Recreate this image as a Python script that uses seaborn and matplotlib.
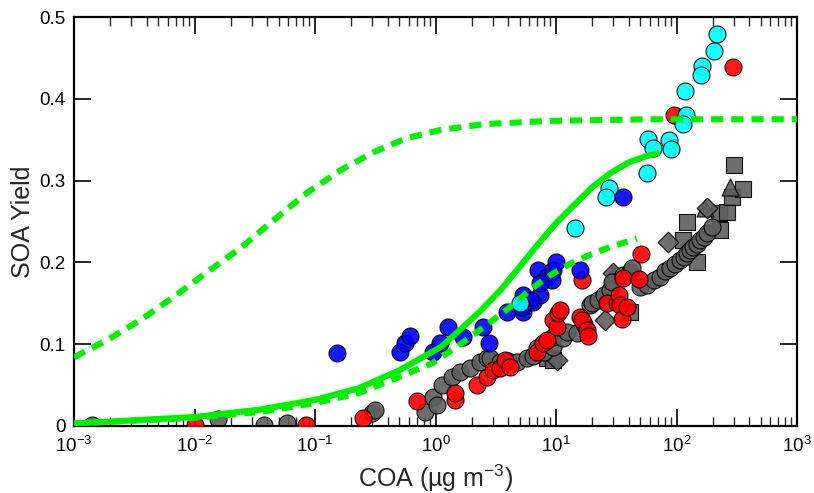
import numpy as np
import pandas as pd
import matplotlib
matplotlib.use("Agg")
import matplotlib.pyplot as plt
from matplotlib.ticker import FuncFormatter, LogLocator, NullFormatter, FixedLocator
import seaborn as sns

# ---------------- data ----------------
gray_circ_x = [0.0014, 0.0157, 0.0378, 0.0586, 0.30, 0.315, 0.82, 0.95, 1.03, 1.13, 1.37, 1.6, 1.93,
               2.34, 2.67, 2.83, 3.43, 4.0, 4.74, 5.74, 6.4, 6.95, 8.0, 9.4, 9.4, 11.4, 12.3, 14.9,
               17.0, 19.1, 19.9, 22.3, 25.0, 28.0, 29.0, 36.0, 41.0, 42.8, 50.0, 57.0, 65.0, 73.0,
               80.0, 88.0, 97.0, 107.0, 115.0, 122.0, 130.0, 137.0, 147.0, 157.0, 168.0, 179.0, 197.0]
gray_circ_y = [0.001, 0.009, 0.001, 0.004, 0.016, 0.020, 0.017, 0.035, 0.026, 0.050, 0.060, 0.066, 0.071,
               0.078, 0.083, 0.083, 0.078, 0.080, 0.078, 0.083, 0.086, 0.095, 0.090, 0.097, 0.109, 0.108,
               0.115, 0.114, 0.125, 0.148, 0.150, 0.154, 0.160, 0.166, 0.176, 0.185, 0.188, 0.193, 0.170,
               0.172, 0.178, 0.182, 0.190, 0.193, 0.198, 0.203, 0.207, 0.211, 0.215, 0.219, 0.223, 0.227,
               0.231, 0.236, 0.243]

gray_sq_x = [8.4, 9.5, 41.0, 113.0, 122.0, 148.0, 225.0, 230.0, 262.0, 289.0, 300.0, 357.0]
gray_sq_y = [0.083, 0.081, 0.139, 0.227, 0.249, 0.200, 0.260, 0.240, 0.262, 0.280, 0.319, 0.290]

gray_tri_x = [29.7, 173.0, 278.0]
gray_tri_y = [0.186, 0.266, 0.292]

gray_dia_x = [10.2, 25.5, 29.7, 85.0, 179.0]
gray_dia_y = [0.081, 0.130, 0.187, 0.225, 0.266]

red_x = [0.0101, 0.084, 0.25, 0.70, 1.45, 1.45, 2.2, 2.67, 3.0, 3.43, 3.78, 4.15, 6.95, 7.8, 8.4,
         9.44, 10.2, 10.4, 10.8, 15.8, 16.4, 16.4, 18.1, 18.4, 26.5, 32.0, 33.3, 34.0, 35.3, 36.0,
         38.8, 48.9, 51.0, 95.0, 294.0]
red_y = [0.001, 0.001, 0.010, 0.030, 0.032, 0.040, 0.050, 0.060, 0.068, 0.071, 0.081, 0.072, 0.090,
         0.101, 0.105, 0.130, 0.121, 0.138, 0.142, 0.133, 0.130, 0.178, 0.117, 0.110, 0.150, 0.150,
         0.160, 0.148, 0.131, 0.181, 0.145, 0.180, 0.210, 0.380, 0.439]

blue_x = [0.152, 0.51, 0.56, 0.61, 0.95, 1.09, 1.27, 1.69, 2.48, 2.78, 3.92, 5.32, 5.32, 6.44, 7.36,
          7.09, 8.42, 9.44, 10.0, 9.27, 15.8, 36.0, 6.08, 5.22, 7.36]
blue_y = [0.089, 0.090, 0.101, 0.110, 0.090, 0.101, 0.121, 0.109, 0.121, 0.101, 0.139, 0.139, 0.160,
          0.152, 0.160, 0.191, 0.182, 0.191, 0.200, 0.178, 0.191, 0.280, 0.154, 0.145, 0.175]

cyan_x = [217.0, 205.0, 163.0, 160.0, 118.0, 120.0, 113.0, 58.0, 64.0, 87.0, 90.0, 57.0, 27.5, 26.0,
          14.4, 5.0]
cyan_y = [0.479, 0.458, 0.440, 0.429, 0.410, 0.380, 0.369, 0.351, 0.340, 0.350, 0.339, 0.309, 0.291,
          0.280, 0.242, 0.150]

fit_upper_x = [0.001, 0.00188, 0.0036, 0.00676, 0.0127, 0.0243, 0.0457, 0.0859, 0.164, 0.309, 0.579,
               1.11, 2.52, 8.9, 60.0, 1000.0]
fit_upper_y = [0.084, 0.105, 0.130, 0.158, 0.188, 0.218, 0.252, 0.285, 0.313, 0.335, 0.352, 0.362,
               0.369, 0.373, 0.375, 0.375]

fit_solid_x = [0.001, 0.01, 0.0347, 0.1, 0.229, 0.50, 1.12, 1.58, 2.34, 3.55, 5.01, 7.08, 10.0,
               14.1, 20.0, 28.2, 39.8, 56.2, 72.4]
fit_solid_y = [0.003, 0.011, 0.020, 0.032, 0.046, 0.068, 0.097, 0.117, 0.140, 0.168, 0.195, 0.222,
               0.248, 0.270, 0.292, 0.309, 0.322, 0.330, 0.334]

fit_lower_x = [0.001, 0.01, 0.0347, 0.1, 0.229, 0.50, 0.95, 1.8, 3.9, 6.3, 8.9, 12.6, 18.2, 28.2,
               46.8]
fit_lower_y = [0.003, 0.010, 0.017, 0.028, 0.040, 0.060, 0.077, 0.105, 0.142, 0.168, 0.184, 0.197,
               0.208, 0.219, 0.229]

y_ticks = [0.0, 0.1, 0.2, 0.3, 0.4, 0.5]

# ---------------- style ----------------
sns.set_style("ticks")
plt.rcParams['font.family'] = ['Liberation Sans', 'DejaVu Sans']
plt.rcParams['mathtext.fontset'] = 'custom'
plt.rcParams['mathtext.rm'] = 'Liberation Sans'
plt.rcParams['mathtext.it'] = 'Liberation Sans:italic'
plt.rcParams['mathtext.default'] = 'regular'

GRAY = '#5e5e5e'
RED = '#ff0000'
BLUE = '#0000ff'
CYAN = '#00ffff'
GREEN = '#00ee00'

fig = plt.figure(figsize=(8.14, 4.93), dpi=100)
ax = fig.add_axes([74 / 814, 1 - 426 / 493, (797 - 74) / 814, (426 - 17) / 493])
ax.set_xscale('log')

S = 150
common = dict(edgecolor='black', linewidth=0.8, alpha=0.9, legend=False, ax=ax)
sns.scatterplot(x=gray_sq_x, y=gray_sq_y, marker='s', s=125, color=GRAY, zorder=2, **common)
sns.scatterplot(x=gray_tri_x, y=gray_tri_y, marker='^', s=150, color=GRAY, zorder=2, **common)
sns.scatterplot(x=gray_dia_x, y=gray_dia_y, marker='D', s=110, color=GRAY, zorder=2, **common)
sns.scatterplot(x=gray_circ_x, y=gray_circ_y, marker='o', s=S, color=GRAY, zorder=2, **common)
sns.scatterplot(x=red_x, y=red_y, marker='o', s=S, color=RED, zorder=3, **common)
sns.scatterplot(x=blue_x, y=blue_y, marker='o', s=S, color=BLUE, zorder=4, **common)
sns.scatterplot(x=cyan_x, y=cyan_y, marker='o', s=S, color=CYAN, zorder=5, **common)

LW = 4.4
sns.lineplot(x=fit_solid_x, y=fit_solid_y, ax=ax, color=GREEN, linewidth=LW, estimator=None,
             sort=False, zorder=6, solid_capstyle='butt', solid_joinstyle='round')
sns.lineplot(x=fit_lower_x, y=fit_lower_y, ax=ax, color=GREEN, linewidth=LW, estimator=None,
             sort=False, zorder=6, linestyle=(0, (1.8, 1.3)), dash_capstyle='butt')
sns.lineplot(x=fit_upper_x, y=fit_upper_y, ax=ax, color=GREEN, linewidth=LW, estimator=None,
             sort=False, zorder=6, linestyle=(0, (2.0, 1.3)), dash_capstyle='butt')

ax.set_xlim(1e-3, 1e3)
ax.set_ylim(0, 0.5)
ax.yaxis.set_major_locator(FixedLocator(y_ticks))
ax.yaxis.set_major_formatter(FuncFormatter(lambda v, _: '0' if abs(v) < 1e-9 else f'{v:.1f}'))
ax.xaxis.set_major_locator(LogLocator(base=10, numticks=20))
ax.xaxis.set_minor_locator(LogLocator(base=10, subs=np.arange(2, 10), numticks=20))
ax.xaxis.set_minor_formatter(NullFormatter())

for sp in ax.spines.values():
    sp.set_linewidth(1.6)
    sp.set_color('black')
    sp.set_visible(True)

ax.tick_params(axis='both', which='major', direction='in', length=12, width=1.2,
               top=True, right=True, labelsize=13.5, colors='black')
ax.tick_params(axis='x', which='major', pad=7)
ax.tick_params(axis='y', which='major', pad=6)
ax.tick_params(axis='x', which='minor', direction='in', length=6.5, width=1.0, top=True, bottom=True)
ax.tick_params(axis='y', which='minor', left=False, right=False)

ax.set_xlabel('COA (µg m$^{-3}$)', fontsize=18, labelpad=5)
ax.set_ylabel('SOA Yield', fontsize=18, labelpad=3)
ax.grid(False)

fig.savefig('out.png', dpi=100)
